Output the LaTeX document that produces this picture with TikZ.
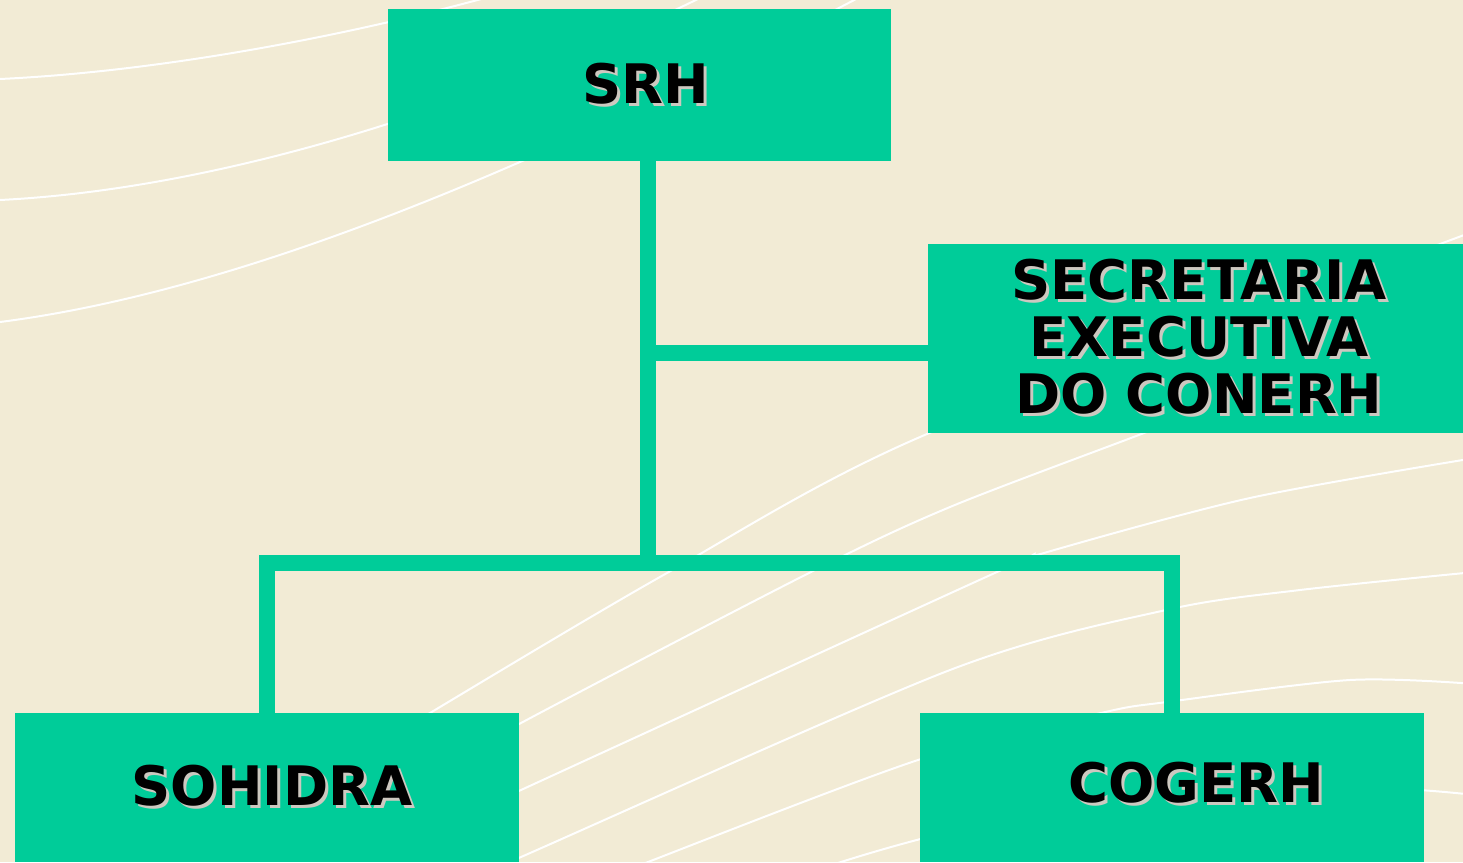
\documentclass[tikz,border=0pt]{standalone}
\usepackage{fontspec}
\setmainfont{DejaVu Sans}
\definecolor{bgcream}{RGB}{242,235,213}
\definecolor{boxgreen}{RGB}{0,204,153}
\definecolor{shadegray}{RGB}{205,200,192}
% text with a light drop shadow
\newcommand{\txtshade}[1]{\makebox[0pt][l]{\hspace{0.06cm}\raisebox{-0.06cm}{\color{shadegray}#1}}#1}

\begin{document}
\begin{tikzpicture}[x=0.02cm,y=-0.02cm,
    unitbox/.style={fill=boxgreen,draw=none,inner sep=0pt,align=center,
      font=\fontsize{31}{32.5}\selectfont\bfseries},
    link/.style={draw=boxgreen,line width=0.32cm},
    wave/.style={white,line width=0.04cm}]
      \useasboundingbox (0,0) rectangle (1463,862);
      \fill[bgcream] (0,0) rectangle (1463,862);
      % background lines
      \draw[wave] (0,79) .. controls (150,72) and (330,40) .. (485,-2);
      \draw[wave] (0,200) .. controls (200,190) and (450,120) .. (700,-2);
      \draw[wave] (0,322) .. controls (250,290) and (550,160) .. (858,-2);
      \draw[wave] plot[smooth] coordinates {(380,745) (430,713) (667,573) (927,434) (1440,244) (1475,230)};
      \draw[wave] plot[smooth] coordinates {(480,750) (521,723) (809,573) (950,507) (1144,433) (1200,410)};
      \draw[wave] plot[smooth] coordinates {(480,810) (521,790) (997,572) (1044,553) (1250,498) (1475,458)};
      \draw[wave] plot[smooth] coordinates {(480,875) (521,857) (950,670) (1166,610) (1300,590) (1475,572)};
      \draw[wave] plot[smooth] coordinates {(620,875) (648,862) (918,760) (1101,713) (1167,702) (1350,680) (1475,684)};
      \draw[wave] (760,890) .. controls (1000,800) and (1250,770) .. (1475,795);
      % boxes
      \node[unitbox,minimum width=10.06cm,minimum height=3.04cm] (srh) at (639.5,85) {\hspace{0.24cm}\txtshade{SRH}};
      \node[unitbox,minimum width=10.84cm,minimum height=3.78cm] (secr) at (1199,338.5)
        {\txtshade{SECRETARIA}\\\txtshade{EXECUTIVA}\\\txtshade{DO CONERH}};
      \node[unitbox,minimum width=10.08cm,minimum height=2.98cm] (sohidra) at (267,787.5) {\hspace{0.2cm}\txtshade{SOHIDRA}};
      \node[unitbox,minimum width=10.08cm,minimum height=2.98cm,text depth=0.2cm] (cogerh) at (1172,787.5) {\hspace{0.96cm}\txtshade{COGERH}};
      % connectors
      \coordinate (fork) at (648,563);
      \coordinate (tap) at (648,353);
      \draw[link] (srh.south -| fork) -- (fork);
      \draw[link] (tap) -- (tap -| secr.west);
      \draw[link] (sohidra.north) |- (fork) -| (cogerh.north);
    \end{tikzpicture}
\end{document}
